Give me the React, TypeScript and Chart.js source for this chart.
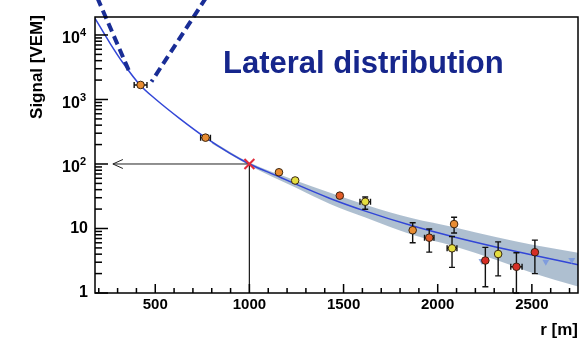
import React, { useEffect, useRef } from 'react';
import { Chart, registerables } from 'chart.js';

Chart.register(...registerables);

const FONT = '"Liberation Sans", Arial, Helvetica, sans-serif';

// ---- axes ----
const xMin = 180;
const xMax = 2745;
const yMin = 1;
const yMax = 19000;
const xTickValues = [500, 1000, 1500, 2000, 2500];
const xTickLabels = ['500', '1000', '1500', '2000', '2500'];
const xMinorStep = 100;
const yTickValues = [1, 10, 100, 1000, 10000];
const yTickBase = ['1', '10', '10', '10', '10'];
const yTickExp = ['', '', '2', '3', '4'];

const xTitle = 'r [m]';
const yTitle = 'Signal [VEM]';
const plotTitle = 'Lateral distribution';

// ---- station signals ----
const stationR = [422, 767, 1157, 1243, 1480, 1615, 1867, 1955, 2087, 2076, 2253, 2321, 2418, 2516];
const stationS = [1680, 256, 74.4, 55.5, 32.3, 26, 9.4, 7.2, 11.7, 4.93, 3.19, 4.02, 2.55, 4.29];
const stationSHigh = [null, null, null, null, null, 30.8, 12.3, 9.8, 14.9, 7.5, 5.1, 6.2, 4.2, 6.6];
const stationSLow = [null, null, null, null, null, 19.9, 6.0, 4.3, 8.5, 2.5, 1.25, 1.84, 1.0, 2.0];
const stationRErr = [34, 26, 0, 0, 0, 28, 0, 25, 0, 26, 0, 0, 30, 0];
const stationKind = ['orange', 'orange', 'orange', 'yellow', 'redorange', 'yellow', 'orange', 'redorange', 'orange', 'yellow', 'red', 'yellow', 'red', 'red'];

// ---- small triangle markers ----
const triangleR = [2235, 2574, 2712];
const triangleS = [3.13, 3.06, 3.25];

// ---- LDF fit ----
const fitR = [180, 260, 330, 419, 507, 630, 767, 895, 1000, 1155, 1242, 1425, 1616, 1865, 2087, 2308, 2503, 2747];
const fitS = [18150, 7430, 3640, 1678, 982, 506, 256, 147, 100, 64, 49.3, 29.5, 18.6, 11.0, 7.38, 5.17, 3.87, 2.74];

// ---- fit uncertainty band ----
const bandR = [800, 1000, 1242, 1425, 1616, 1865, 2087, 2308, 2503, 2747];
const bandHigh = [228, 105.5, 56, 36, 23.4, 14.4, 10.5, 7.4, 5.6, 4.2];
const bandLow = [208, 94.8, 43.5, 24.2, 14.8, 8.0, 5.3, 3.27, 2.05, 1.26];

// ---- S(1000) marker and guides ----
const s1000R = [1000];
const s1000S = [100];
const arrowR = [1000, 275];
const arrowS = [100, 100];
const dropR = [1000, 1000];
const dropS = [100, 1];

// ---- dashed V ----
const dashLeftR = [192, 366];
const dashLeftS = [38000, 2547];
const dashRightR = [770, 480];
const dashRightS = [38000, 1888];

const kindColor: Record<string, string> = {
  orange: 'rgb(232,140,50)',
  yellow: 'rgb(228,222,64)',
  redorange: 'rgb(226,92,40)',
  red: 'rgb(214,46,38)',
};

const pts = (xs: number[], ys: number[]) => xs.map((x, i) => ({ x, y: ys[i] }));

const STATION_INDEX = 7;

const decorPlugin = {
  id: 'decor',
  beforeDatasetDraw(chart: any, args: any) {
    if (args.index !== STATION_INDEX) return;
    const ctx = chart.ctx;
    const xs = chart.scales.x;
    const ys = chart.scales.y;
    ctx.save();
    ctx.setLineDash([]);
    ctx.strokeStyle = '#111';
    ctx.lineWidth = 1.4;
    ctx.beginPath();
    for (let i = 0; i < stationR.length; i++) {
      const px = xs.getPixelForValue(stationR[i]);
      const py = ys.getPixelForValue(stationS[i]);
      const hi = stationSHigh[i];
      const lo = stationSLow[i];
      if (hi != null && lo != null) {
        const yh = ys.getPixelForValue(hi);
        const yl = ys.getPixelForValue(lo);
        ctx.moveTo(px, yh);
        ctx.lineTo(px, yl);
        ctx.moveTo(px - 3, yh);
        ctx.lineTo(px + 3, yh);
        ctx.moveTo(px - 3, yl);
        ctx.lineTo(px + 3, yl);
      }
      const e = stationRErr[i];
      if (e) {
        const xl = xs.getPixelForValue(stationR[i] - e);
        const xr = xs.getPixelForValue(stationR[i] + e);
        ctx.moveTo(xl, py);
        ctx.lineTo(xr, py);
        ctx.moveTo(xl, py - 3);
        ctx.lineTo(xl, py + 3);
        ctx.moveTo(xr, py - 3);
        ctx.lineTo(xr, py + 3);
      }
    }
    ctx.stroke();
    ctx.restore();
  },
  afterDraw(chart: any) {
    const ctx = chart.ctx;
    const a = chart.chartArea;
    const xs = chart.scales.x;
    const ys = chart.scales.y;
    ctx.save();
    ctx.setLineDash([]);
    ctx.globalAlpha = 1;

    // inward tick marks
    ctx.fillStyle = '#000';
    const bottom = Math.round(a.bottom);
    const left = Math.round(a.left);
    for (let v = Math.ceil(xMin / xMinorStep) * xMinorStep; v <= xMax; v += xMinorStep) {
      const px = xs.getPixelForValue(v);
      const len = v % 500 === 0 ? 9 : 5;
      ctx.fillRect(px - 0.75, bottom - len, 1.5, len);
    }
    for (let d = 1; d <= yMax; d *= 10) {
      for (let m = 1; m <= 9; m++) {
        const v = d * m;
        if (v > yMax) break;
        const py = ys.getPixelForValue(v);
        const len = m === 1 ? 13 : 7;
        ctx.fillRect(left, py - 0.75, len, 1.5);
      }
    }

    // frame
    ctx.strokeStyle = '#000';
    ctx.lineWidth = 1.5;
    ctx.strokeRect(a.left, a.top, a.right - a.left, a.bottom - a.top);

    // x tick labels
    ctx.fillStyle = '#000';
    ctx.font = `bold 15px ${FONT}`;
    ctx.textAlign = 'center';
    ctx.textBaseline = 'middle';
    for (let i = 0; i < xTickValues.length; i++) {
      ctx.fillText(xTickLabels[i], xs.getPixelForValue(xTickValues[i]), 305);
    }

    // y tick labels with superscripts
    for (let i = 0; i < yTickValues.length; i++) {
      const py = ys.getPixelForValue(yTickValues[i]);
      ctx.textAlign = 'right';
      if (yTickExp[i]) {
        ctx.font = `bold 11px ${FONT}`;
        const ew = ctx.measureText(yTickExp[i]).width;
        ctx.fillText(yTickExp[i], 86, py - 2);
        ctx.font = `bold 16px ${FONT}`;
        ctx.fillText(yTickBase[i], 86 - ew, py + 4);
      } else {
        ctx.font = `bold 16px ${FONT}`;
        ctx.fillText(yTickBase[i], 88, py);
      }
    }

    // y axis title
    ctx.save();
    ctx.translate(37, 67);
    ctx.rotate(-Math.PI / 2);
    ctx.font = `bold 17px ${FONT}`;
    ctx.textAlign = 'center';
    ctx.textBaseline = 'middle';
    ctx.fillText(yTitle, 0, 0);
    ctx.restore();

    // x axis title
    ctx.font = `bold 17px ${FONT}`;
    ctx.textAlign = 'right';
    ctx.textBaseline = 'alphabetic';
    ctx.fillText(xTitle, 578, 335);

    // plot title
    ctx.font = `bold 31px ${FONT}`;
    ctx.fillStyle = 'rgb(22,38,140)';
    ctx.textAlign = 'left';
    ctx.fillText(plotTitle, 223, 73);

    // arrow head
    const tx = xs.getPixelForValue(arrowR[1]);
    const ty = ys.getPixelForValue(arrowS[1]);
    ctx.strokeStyle = '#222';
    ctx.lineWidth = 1;
    ctx.beginPath();
    ctx.moveTo(tx + 10, ty - 4.5);
    ctx.lineTo(tx, ty);
    ctx.lineTo(tx + 10, ty + 4.5);
    ctx.stroke();

    ctx.restore();
  },
};

export default function App() {
  const ref = useRef<HTMLCanvasElement>(null);
  useEffect(() => {
    const canvas = ref.current;
    if (!canvas) return;
    const chart = new Chart(canvas, {
      type: 'line',
      data: {
        datasets: [
          {
            data: pts(bandR, bandHigh),
            borderWidth: 0,
            pointRadius: 0,
            fill: false,
            cubicInterpolationMode: 'monotone',
            order: 10,
          } as any,
          {
            data: pts(bandR, bandLow),
            borderWidth: 0,
            pointRadius: 0,
            fill: '-1',
            backgroundColor: 'rgba(160,180,200,0.85)',
            cubicInterpolationMode: 'monotone',
            order: 9,
          } as any,
          {
            data: pts(fitR, fitS),
            borderColor: 'rgb(50,70,215)',
            borderWidth: 1.5,
            pointRadius: 0,
            fill: false,
            cubicInterpolationMode: 'monotone',
            order: 8,
          } as any,
          {
            data: pts(dashLeftR, dashLeftS),
            borderColor: 'rgb(25,45,150)',
            borderWidth: 4,
            borderDash: [9, 5],
            pointRadius: 0,
            fill: false,
            clip: false,
            order: 7,
          } as any,
          {
            data: pts(dashRightR, dashRightS),
            borderColor: 'rgb(25,45,150)',
            borderWidth: 4,
            borderDash: [9, 5],
            pointRadius: 0,
            fill: false,
            clip: false,
            order: 7,
          } as any,
          {
            data: pts(arrowR, arrowS),
            borderColor: '#222',
            borderWidth: 1,
            pointRadius: 0,
            fill: false,
            order: 6,
          } as any,
          {
            data: pts(dropR, dropS),
            borderColor: '#222',
            borderWidth: 1,
            pointRadius: 0,
            fill: false,
            order: 6,
          } as any,
          {
            data: pts(stationR, stationS),
            showLine: false,
            pointRadius: 3.8,
            pointBackgroundColor: stationKind.map((k) => kindColor[k]),
            pointBorderColor: 'rgba(50,30,10,0.95)',
            pointBorderWidth: 1,
            order: 3,
          } as any,
          {
            data: pts(triangleR, triangleS),
            showLine: false,
            pointStyle: 'triangle',
            rotation: 180,
            pointRadius: 4,
            pointBackgroundColor: 'rgba(120,150,225,0.85)',
            pointBorderColor: 'rgba(120,150,225,0.85)',
            pointBorderWidth: 0,
            order: 4,
          } as any,
          {
            data: pts(s1000R, s1000S),
            showLine: false,
            pointStyle: 'crossRot',
            pointRadius: 7,
            pointBorderColor: 'rgb(225,45,60)',
            pointBorderWidth: 2,
            order: 1,
          } as any,
        ],
      },
      options: {
        animation: false,
        responsive: false,
        devicePixelRatio: 1,
        layout: { padding: { left: 0, top: 17, right: 8, bottom: 0 } },
        plugins: {
          legend: { display: false },
          tooltip: { enabled: false },
          title: { display: false },
        },
        scales: {
          x: {
            type: 'linear',
            min: xMin,
            max: xMax,
            afterBuildTicks: (s: any) => {
              s.ticks = xTickValues.map((v) => ({ value: v }));
            },
            afterFit: (s: any) => {
              s.height = 54;
            },
            grid: { display: false },
            border: { display: false },
            ticks: { display: false },
          },
          y: {
            type: 'logarithmic',
            min: yMin,
            max: yMax,
            afterBuildTicks: (s: any) => {
              s.ticks = yTickValues.map((v) => ({ value: v }));
            },
            afterFit: (s: any) => {
              s.width = 95;
            },
            grid: { display: false },
            border: { display: false },
            ticks: { display: false },
          },
        },
      } as any,
      plugins: [decorPlugin],
    });
    return () => chart.destroy();
  }, []);
  return (
    <div style={{ position: 'absolute', left: 0, top: 0, width: 587, height: 347, background: '#fff' }}>
      <canvas ref={ref} width={587} height={347} style={{ display: 'block' }} />
    </div>
  );
}
